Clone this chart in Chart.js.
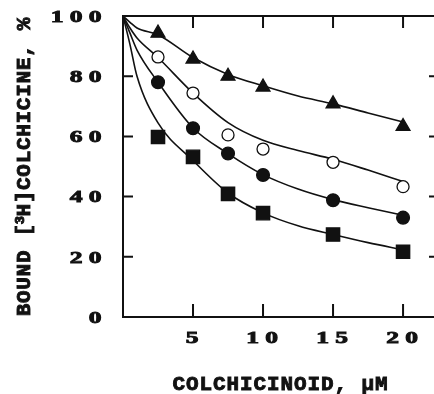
<!DOCTYPE html>
<html>
<head>
<meta charset="utf-8">
<script src="https://cdn.jsdelivr.net/npm/chart.js@4.4.1/dist/chart.umd.min.js"></script>
<style>
  html, body { margin: 0; padding: 0; background: #fff; overflow: hidden; }
  canvas { display: block; }
</style>
</head>
<body>
<canvas id="bindChart" width="434" height="394"></canvas>
<script>
// measured points (µM colchicinoid vs % bound)
const concentrations = [2.5, 5, 7.5, 10, 15, 20];
const triangleVals = [94.3, 85.7, 80.0, 76.4, 70.8, 63.3];
const openCircleVals = [86.4, 74.4, 60.5, 55.8, 51.4, 43.3];
const filledCircleVals = [78.0, 62.7, 54.3, 47.2, 38.8, 33.0];
const squareVals = [59.8, 53.2, 40.9, 34.5, 27.4, 21.7];

// fitted curves
const curveX = [0, 0.5, 1, 2.5, 5, 7.5, 10, 12.5, 15, 17.5, 20];
const triangleCurve = [100, 97.9, 96.0, 93.8, 86.2, 80.6, 76.8, 73.4, 70.8, 67.8, 64.8];
const openCircleCurve = [100, 96.0, 92.7, 86.2, 74.4, 64.6, 58.7, 55.3, 52.4, 48.8, 45.0];
const filledCircleCurve = [100, 94.3, 88.7, 78.0, 62.8, 54.3, 47.3, 42.5, 39.0, 36.3, 33.8];
const squareCurve = [100, 90.5, 80.0, 64.5, 52.0, 41.2, 34.6, 30.3, 27.4, 24.7, 22.3];

const xTickLabels = ['5', '10', '15', '20'];
const yTickLabels = ['0', '20', '40', '60', '80', '100'];
const xTitle = 'COLCHICINOID, μM';
const yTitle = 'BOUND [³H]COLCHICINE, %';

const INK = '#111';

function pts(xs, ys) {
    return xs.map((x, i) => ({ x: x, y: ys[i] }));
}

function curve(ys) {
    return {
        data: pts(curveX, ys),
        showLine: true,
        borderColor: INK,
        borderWidth: 1.6,
        pointRadius: 0,
        cubicInterpolationMode: 'monotone',
        clip: false,
        order: 1
    };
}

function markers(ys, style, radius, fill) {
    return {
        data: pts(concentrations, ys),
        showLine: false,
        pointStyle: style,
        pointRadius: radius,
        backgroundColor: fill,
        borderColor: INK,
        borderWidth: 1.3,
        clip: false,
        order: 0
    };
}

// draw text one char at a time so the wide letter spacing of the figure survives
function drawSpaced(ctx, text, cx, cy, pitch, stretch) {
    const chars = Array.from(text);
    const steps = chars.map(c => c === '³' ? pitch * 0.5 : pitch);
    const total = steps.reduce((a, b) => a + b, 0);
    let x = cx - total / 2;
    chars.forEach((c, i) => {
        ctx.save();
        ctx.translate(x + steps[i] / 2, cy);
        ctx.scale(stretch, 1);
        ctx.strokeText(c, 0, 0);
        ctx.fillText(c, 0, 0);
        ctx.restore();
        x += steps[i];
    });
}

const framePlugin = {
    id: 'frame',
    afterDraw(chart) {
        const ctx = chart.ctx;
        const a = chart.chartArea;
        const xs = chart.scales.x;
        const ys = chart.scales.y;

        ctx.save();
        ctx.strokeStyle = INK;
        ctx.lineWidth = 2;
        ctx.beginPath();
        ctx.moveTo(a.right, a.top);
        ctx.lineTo(a.left, a.top);
        ctx.lineTo(a.left, a.bottom);
        ctx.lineTo(a.right, a.bottom);

        // inward ticks
        xTickLabels.forEach(l => {
            const px = xs.getPixelForValue(Number(l));
            ctx.moveTo(px, a.top);
            ctx.lineTo(px, a.top + 12);
            ctx.moveTo(px, a.bottom);
            ctx.lineTo(px, a.bottom - 13);
        });
        yTickLabels.forEach(l => {
            const v = Number(l);
            if (v === 0 || v === 100) return;
            const py = ys.getPixelForValue(v);
            ctx.moveTo(a.left, py);
            ctx.lineTo(a.left + 10, py);
            ctx.moveTo(a.right - 5, py);
            ctx.lineTo(a.right, py);
        });
        ctx.stroke();

        ctx.fillStyle = INK;
        ctx.lineWidth = 0.9;
        ctx.textAlign = 'center';
        ctx.textBaseline = 'middle';

        // tick labels
        ctx.font = 'bold 17px "Liberation Serif"';
        const pitch = 19;
        yTickLabels.forEach(l => {
            const py = ys.getPixelForValue(Number(l)) + 1.5;
            const n = l.length;
            drawSpaced(ctx, l, 95 - (n - 1) * pitch / 2, py, pitch, 1.5);
        });
        xTickLabels.forEach(l => {
            const px = xs.getPixelForValue(Number(l)) - 1;
            drawSpaced(ctx, l, px, a.bottom + 22, pitch, 1.5);
        });

        // axis titles
        ctx.font = 'bold 21px "Liberation Mono"';
        drawSpaced(ctx, xTitle, 280, 385, 13.5, 1);

        ctx.translate(25, 167);
        ctx.rotate(-Math.PI / 2);
        drawSpaced(ctx, yTitle, 0, 0, 13.3, 1);
        ctx.restore();
    }
};

new Chart(document.getElementById('bindChart'), {
    type: 'scatter',
    data: {
        datasets: [
            markers(triangleVals, 'triangle', 8, INK),
            markers(openCircleVals, 'circle', 6, '#fff'),
            markers(filledCircleVals, 'circle', 6.4, INK),
            markers(squareVals, 'rect', 9.4, INK),
            curve(triangleCurve),
            curve(openCircleCurve),
            curve(filledCircleCurve),
            curve(squareCurve)
        ]
    },
    options: {
        responsive: false,
        animation: false,
        devicePixelRatio: 1,
        layout: {
            autoPadding: false,
            padding: { left: 123, top: 16, right: 0, bottom: 77 }
        },
        plugins: {
            legend: { display: false },
            tooltip: { enabled: false }
        },
        scales: {
            x: { type: 'linear', min: 0, max: 22.21, display: false },
            y: { type: 'linear', min: 0, max: 100, display: false }
        }
    },
    plugins: [framePlugin]
});
</script>
</body>
</html>
